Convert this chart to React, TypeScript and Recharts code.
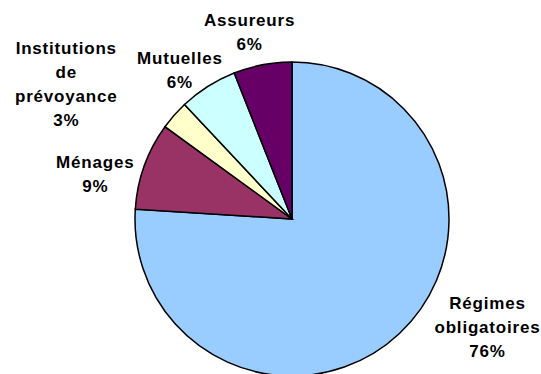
import React from "react";
import { PieChart, Pie, Cell } from "recharts";

// Financement des dépenses : part de chaque financeur (%)
const financeurs = [
  "Régimes obligatoires",
  "Ménages",
  "Institutions de prévoyance",
  "Mutuelles",
  "Assureurs",
];
const parts = [76, 9, 3, 6, 6];
const couleurs = ["#99CCFF", "#993366", "#FFFFCC", "#CCFFFF", "#660066"];
// libellés coupés sur plusieurs lignes comme dans la légende d'origine
const lignesLibelle = [
  ["Régimes", "obligatoires"],
  ["Ménages"],
  ["Institutions", "de", "prévoyance"],
  ["Mutuelles"],
  ["Assureurs"],
];
// décalage du bloc de texte par rapport au bord de la part
const decalages: [number, number][] = [
  [88, 0],
  [-49, 14],
  [-108, -25],
  [-28, -10],
  [-13, -27],
];

const data = financeurs.map((nom, i) => ({ nom, part: parts[i] }));

const RAD = Math.PI / 180;
const INTERLIGNE = 24;

function Libelle(props: any) {
  const { cx, cy, midAngle, outerRadius, index, value } = props;
  const bx = cx + outerRadius * Math.cos(-midAngle * RAD);
  const by = cy + outerRadius * Math.sin(-midAngle * RAD);
  const [dx, dy] = decalages[index];
  const lignes = [...lignesLibelle[index], `${value}%`];
  const x = bx + dx;
  const y0 = by + dy - ((lignes.length - 1) * INTERLIGNE) / 2;
  return (
    <text
      x={x}
      y={y0}
      textAnchor="middle"
      fill="#000"
      style={{
        fontFamily: "'Liberation Sans', Arial, sans-serif",
        fontWeight: 700,
        fontSize: 17,
        letterSpacing: 0.8,
      }}
    >
      {lignes.map((l, i) => (
        <tspan key={i} x={x} y={y0 + i * INTERLIGNE}>
          {l}
        </tspan>
      ))}
    </text>
  );
}

export default function App() {
  return (
    <div style={{ position: "absolute", left: 0, top: 0, width: 541, height: 374, background: "#fff" }}>
      <PieChart width={541} height={374} margin={{ top: 0, right: 0, bottom: 0, left: 0 }}>
        <Pie
          data={data}
          dataKey="part"
          nameKey="nom"
          cx={292}
          cy={219}
          outerRadius={157}
          startAngle={90}
          endAngle={-270}
          stroke="#000"
          strokeWidth={1.5}
          labelLine={false}
          label={Libelle}
          isAnimationActive={false}
        >
          {data.map((d, i) => (
            <Cell key={d.nom} fill={couleurs[i]} />
          ))}
        </Pie>
      </PieChart>
    </div>
  );
}
